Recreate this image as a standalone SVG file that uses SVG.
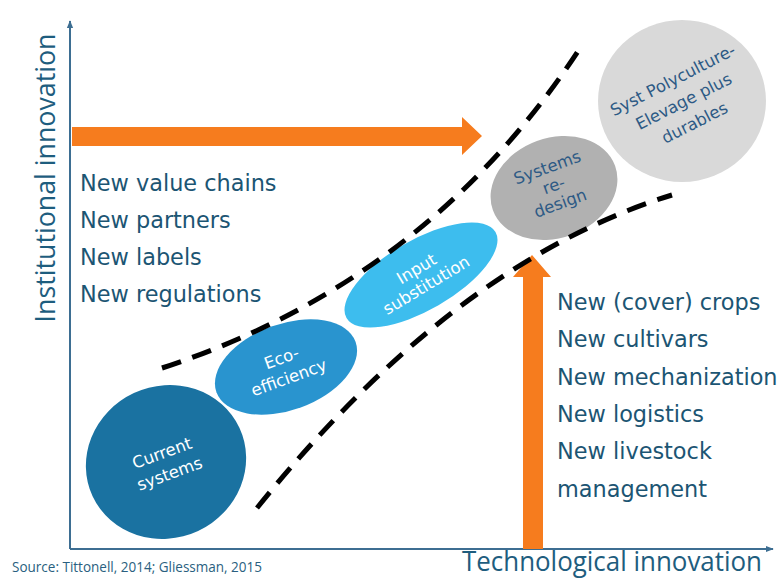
<svg xmlns="http://www.w3.org/2000/svg" width="783" height="579" viewBox="0 0 783 579">
<defs>
<style>
.list{font-family:"DejaVu Sans",Verdana,sans-serif;font-size:22.4px;fill:#1c5573}
.axt{font-family:"Open Sans","Liberation Sans",sans-serif;font-size:27px;fill:#1e5d7e}
.lbl{font-family:"DejaVu Sans",Verdana,sans-serif;font-size:16.5px;text-anchor:middle}
.w{fill:#ffffff}
.d{fill:#2d5a85}
.dash{fill:none;stroke:#000;stroke-width:5;stroke-dasharray:20 12}
.axis{stroke:#3d6e92;stroke-width:2;fill:none}
</style>
<marker id="ah" viewBox="0 0 10 10" refX="9" refY="5" markerWidth="8" markerHeight="8" markerUnits="userSpaceOnUse" orient="auto">
<path d="M0,1 L10,5 L0,9 Z" fill="#3d6e92"/>
</marker>
</defs>
<rect width="783" height="579" fill="#ffffff"/>
<g id="axes">
<line class="axis" x1="70" y1="549" x2="70" y2="21" marker-end="url(#ah)"/>
<line class="axis" x1="70" y1="549" x2="773" y2="549" marker-end="url(#ah)"/>
<text class="axt" transform="translate(55,178) rotate(-90)" text-anchor="middle" textLength="289" lengthAdjust="spacingAndGlyphs">Institutional innovation</text>
<text class="axt" x="462" y="571" textLength="300" lengthAdjust="spacingAndGlyphs">Technological innovation</text>
<text x="12" y="572" font-family="'Open Sans','Liberation Sans',sans-serif" font-size="14" fill="#2a5f80" textLength="250" lengthAdjust="spacingAndGlyphs">Source: Tittonell, 2014; Gliessman, 2015</text>
</g>
<g id="arrow-institutional">
<path d="M72,127 L462,127 L462,117 L482,136 L462,155 L462,146 L72,146 Z" fill="#f67c1e"/>
</g>
<g id="arrow-technological">
<path d="M523,549 L523,277 L513,277 L532,255 L551,277 L543,277 L543,549 Z" fill="#f67c1e"/>
</g>
<g id="list-institutional">
<text class="list" x="80" y="191">New value chains</text>
<text class="list" x="80" y="228">New partners</text>
<text class="list" x="80" y="265">New labels</text>
<text class="list" x="80" y="302">New regulations</text>
</g>
<g id="list-technological">
<text class="list" x="557" y="310">New (cover) crops</text>
<text class="list" x="557" y="347">New cultivars</text>
<text class="list" x="557" y="385">New mechanization</text>
<text class="list" x="557" y="422">New logistics</text>
<text class="list" x="557" y="459">New livestock</text>
<text class="list" x="557" y="497">management</text>
</g>
<g id="node-current">
<ellipse cx="166" cy="462" rx="81" ry="76" transform="rotate(-25 166 462)" fill="#1a72a1"/>
<g transform="rotate(-20 166 464)">
<text class="lbl w" x="166" y="458" font-size="18">Current</text>
<text class="lbl w" x="166" y="480" font-size="18">systems</text>
</g>
</g>
<g id="node-eco">
<ellipse cx="286" cy="367" rx="74" ry="43" transform="rotate(-20 286 367)" fill="#2994cf"/>
<g transform="rotate(-20 285 367)">
<text class="lbl w" x="285" y="363" font-size="17">Eco-</text>
<text class="lbl w" x="285" y="384" font-size="17">efficiency</text>
</g>
</g>
<g id="node-input">
<ellipse cx="421" cy="275" rx="86" ry="35" transform="rotate(-30 421 275)" fill="#3dbdee"/>
<g transform="rotate(-31 422 278)">
<text class="lbl w" x="422" y="273" font-size="16.5">Input</text>
<text class="lbl w" x="422" y="292" font-size="16.5">substitution</text>
</g>
</g>
<g id="node-redesign">
<ellipse cx="554" cy="188" rx="65" ry="50" transform="rotate(-20 554 188)" fill="#b1b1b1"/>
<g transform="rotate(-20 554 186)">
<text class="lbl d" x="554" y="172" font-size="16">Systems</text>
<text class="lbl d" x="554" y="191" font-size="16">re-</text>
<text class="lbl d" x="554" y="210" font-size="16">design</text>
</g>
</g>
<g id="node-polyculture">
<ellipse cx="682" cy="101" rx="84" ry="81" fill="#d9d9d9"/>
<g transform="rotate(-27 684 102)">
<text class="lbl d" x="684" y="83" font-size="17">Syst Polyculture-</text>
<text class="lbl d" x="684" y="107" font-size="17">Elevage plus</text>
<text class="lbl d" x="684" y="131" font-size="17">durables</text>
</g>
</g>
<g id="connectors">
<path class="dash" d="M162,368 Q430,280 582,45"/>
<path class="dash" d="M257,508 Q455,262 672,195"/>
</g>
</svg>
